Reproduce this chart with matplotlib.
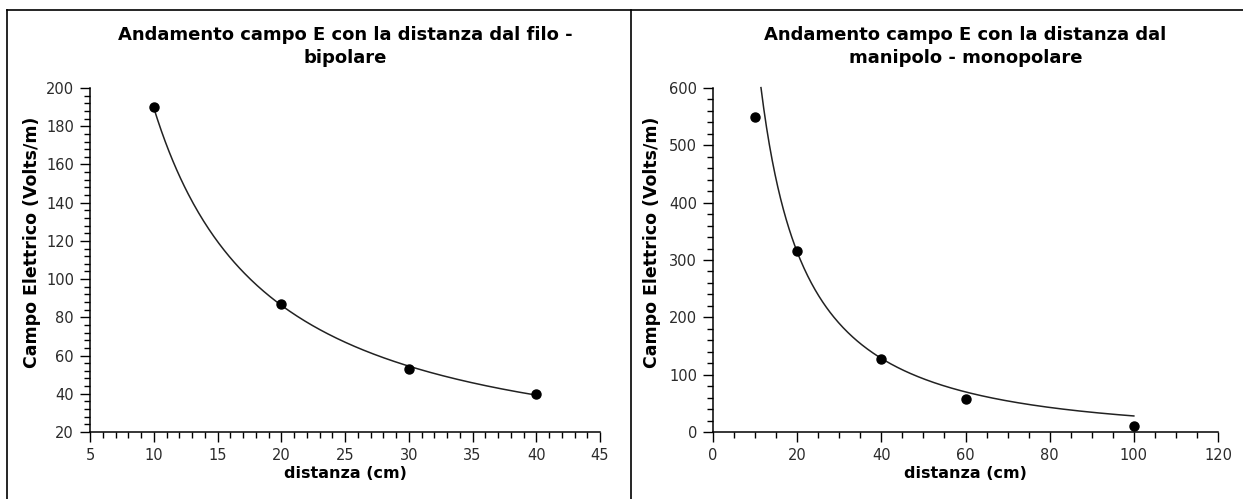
import numpy as np
import matplotlib
matplotlib.use("Agg")
import matplotlib.pyplot as plt
from matplotlib.lines import Line2D
from matplotlib.ticker import MultipleLocator

# ---------------- data ----------------
left_title = "Andamento campo E con la distanza dal filo -\nbipolare"
left_x = [10, 20, 30, 40]
left_y = [190, 87, 53, 40]

right_title = "Andamento campo E con la distanza dal\nmanipolo - monopolare"
right_x = [10, 20, 40, 60, 100]
right_y = [550, 315, 127, 57, 10]

# trend line of the right chart: y = A * x**B * exp(C*x)
right_trend_A = 7650.0
right_trend_B = -0.998
right_trend_C = -0.01015
right_trend_range = (11.4, 100)

x_label = "distanza (cm)"
y_label = "Campo Elettrico (Volts/m)"

W, H = 1243, 499
fig = plt.figure(figsize=(W / 100, H / 100), dpi=100)
fig.patch.set_facecolor("white")

plt.rcParams["font.family"] = ["DejaVu Sans"]

def px_axes(x0, x1, ytop, ybot):
    return fig.add_axes([x0 / W, 1 - ybot / H, (x1 - x0) / W, (ybot - ytop) / H])

ax1 = px_axes(90, 600, 88, 432)
ax2 = px_axes(713, 1218, 88, 432)

def style(ax, title, xlim, ylim, xmaj, xmin, ymaj, ymin, ylab_x):
    ax.set_xlim(*xlim)
    ax.set_ylim(*ylim)
    ax.xaxis.set_major_locator(MultipleLocator(xmaj))
    ax.xaxis.set_minor_locator(MultipleLocator(xmin))
    ax.yaxis.set_major_locator(MultipleLocator(ymaj))
    ax.yaxis.set_minor_locator(MultipleLocator(ymin))
    for s in ("top", "right"):
        ax.spines[s].set_visible(False)
    for s in ("left", "bottom"):
        ax.spines[s].set_linewidth(1.1)
        ax.spines[s].set_color("black")
    ax.tick_params(which="major", direction="out", length=7.5, width=1.0,
                   color="black", labelsize=10.5, labelcolor="#2b2b2b", pad=4)
    ax.tick_params(which="minor", direction="out", length=4, width=1.0, color="black")
    ax.set_title(title, fontsize=13, fontweight="bold", pad=18, linespacing=1.35)
    ax.set_xlabel(x_label, fontsize=11.5, fontweight="bold", labelpad=2)
    ax.set_ylabel(y_label, fontsize=12.5, fontweight="bold")
    ax.yaxis.set_label_coords(ylab_x, 0.55)
    for spine in ax.spines.values():
        spine.set_clip_on(False)

style(ax1, left_title, (5, 45), (20, 200), 5, 1, 20, 4, -0.097)
style(ax2, right_title, (0, 120), (0, 600), 20, 5, 100, 20, -0.103)

# left: power-law trend fitted to the points
lx = np.array(left_x, float)
ly = np.array(left_y, float)
b, lna = np.polyfit(np.log(lx), np.log(ly), 1)
xs = np.linspace(lx.min(), lx.max(), 300)
ax1.plot(xs, np.exp(lna) * xs ** b, color="#222222", lw=1.1, zorder=2)
ax1.plot(left_x, left_y, "o", color="black", ms=6.5, zorder=3, clip_on=False)

# right: trend line
xs2 = np.linspace(right_trend_range[0], right_trend_range[1], 400)
ys2 = right_trend_A * xs2 ** right_trend_B * np.exp(right_trend_C * xs2)
ax2.plot(xs2, ys2, color="#222222", lw=1.1, zorder=2, clip_on=False)
ax2.plot(right_x, right_y, "o", color="black", ms=6.5, zorder=3, clip_on=False)

# table-like frame lines
def fline(x0, y0, x1, y1):
    fig.add_artist(Line2D([x0 / W, x1 / W], [1 - y0 / H, 1 - y1 / H],
                          transform=fig.transFigure, color="black", lw=1.2))

fline(7, 10, W, 10)
fline(7, 10, 7, H)
fline(630.5, 10, 630.5, H)

fig.savefig("out.png", dpi=100, facecolor="white")
